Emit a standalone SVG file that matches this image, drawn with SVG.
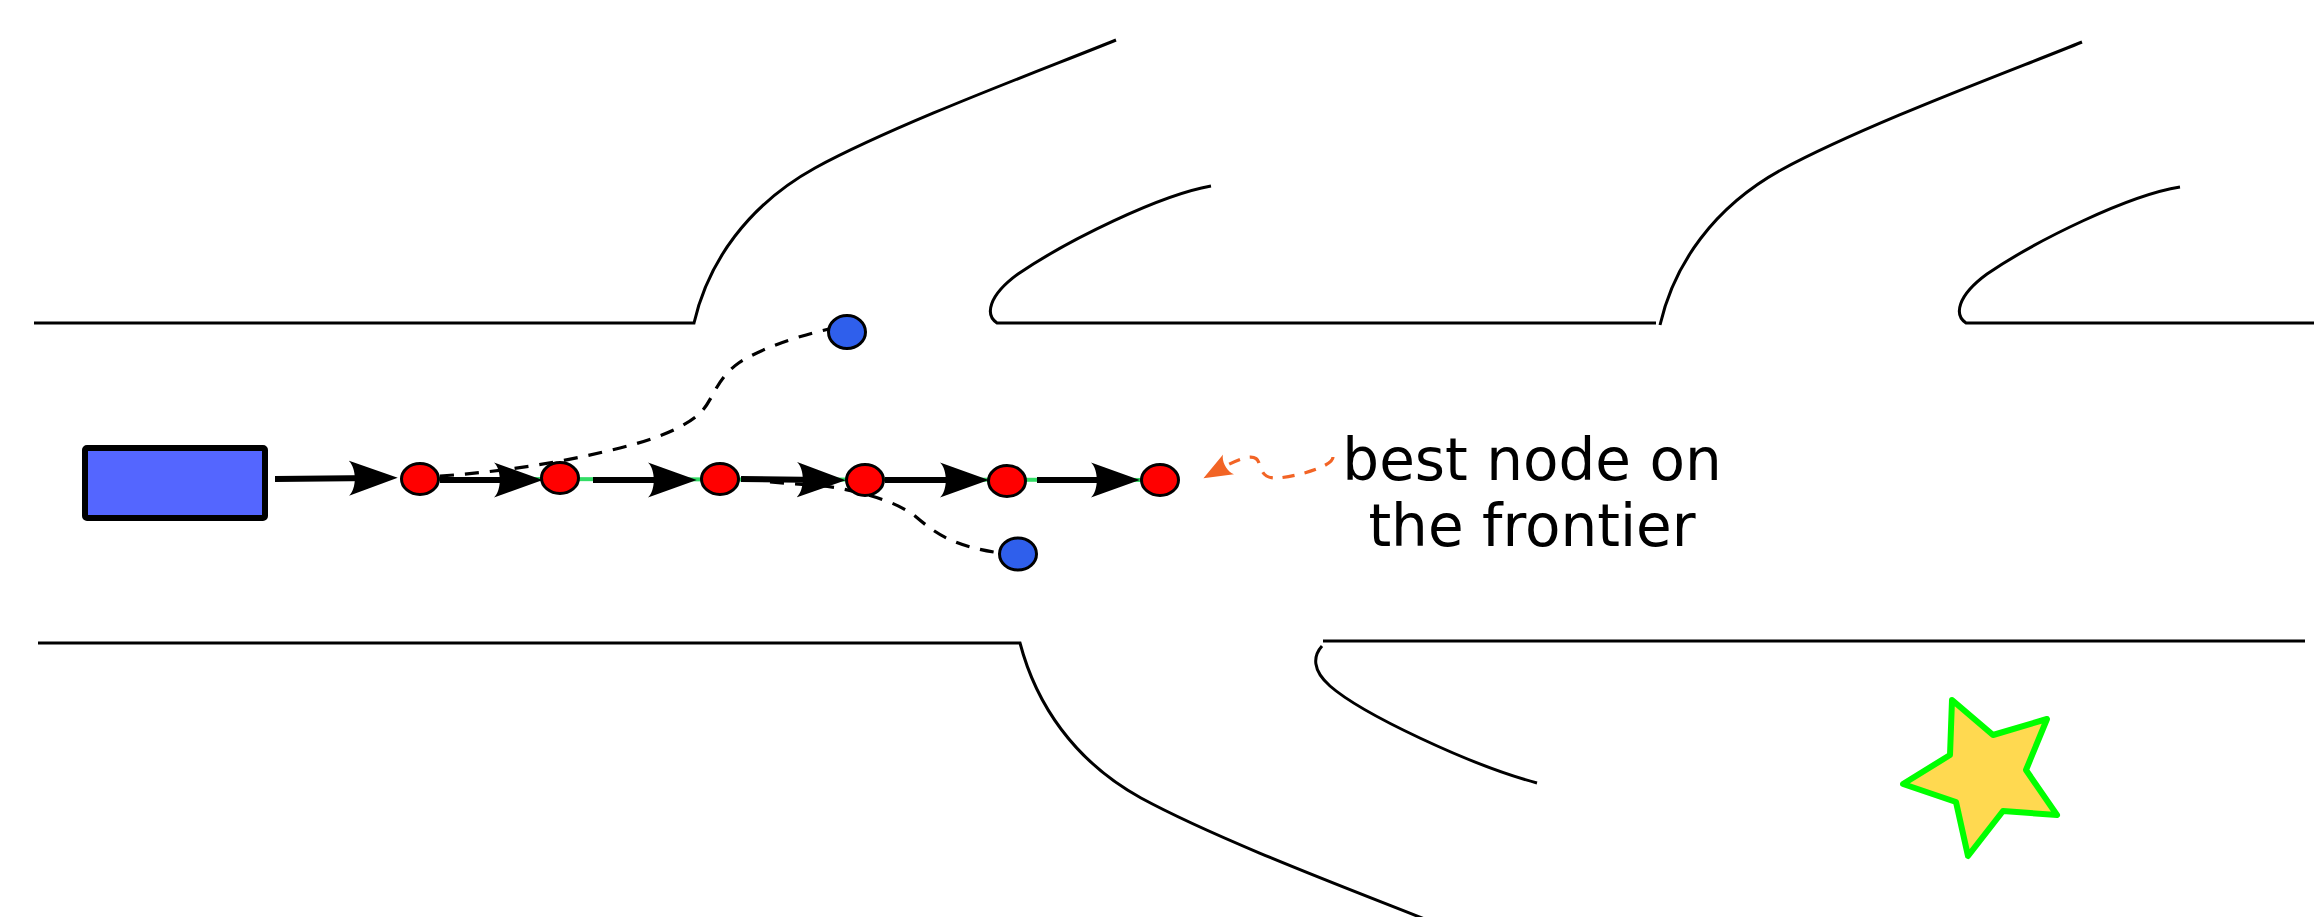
<svg xmlns="http://www.w3.org/2000/svg" width="2314" height="917" viewBox="0 0 2314 917">
<style>
.wall{fill:none;stroke:#000;stroke-width:3}
.arr{fill:none;stroke:#000;stroke-width:6}
.green{fill:none;stroke:#33dd66;stroke-width:4}
.dash{fill:none;stroke:#000;stroke-width:3.2;stroke-dasharray:14 11}
.odash{fill:none;stroke:#f26425;stroke-width:3.2;stroke-dasharray:12 10}
.red{fill:#ff0000;stroke:#000;stroke-width:3}
.blue{fill:#2f5fec;stroke:#000;stroke-width:3}
.lbl{font-family:"DejaVu Sans",sans-serif;font-size:58px;fill:#000;text-anchor:middle}
</style>
<defs>
<marker id="ah" markerUnits="userSpaceOnUse" markerWidth="50" markerHeight="40" viewBox="0 0 44 32" refX="23" refY="16" orient="auto">
<path d="M43,16 L0,0.5 C7,7 7,25 0,31.5 Z" fill="#000"/>
</marker>
<marker id="oah" markerUnits="userSpaceOnUse" markerWidth="30" markerHeight="24" viewBox="0 0 24 18" refX="6" refY="9" orient="auto">
<path d="M23,9 L0,0 C4,4 4,14 0,18 Z" fill="#f26425"/>
</marker>
</defs>

<g id="walls">
<path class="wall" d="M34,323 L694,323 C708,262 748,205 815,168 C900,122 1050,67 1116,40"/>
<path class="wall" d="M1656,323 L997,323 C985,315 988,296 1018,274 C1068,240 1160,195 1211,186"/>
<path class="wall" d="M1660,325 C1674,264 1714,207 1781,170 C1866,124 2016,69 2082,42"/>
<path class="wall" d="M2314,323 L1966,323 C1954,315 1957,296 1987,274 C2037,240 2129,195 2180,187"/>
<path class="wall" d="M38,643 L1020,643 C1036,704 1074,761 1141,798 C1226,844 1376,899 1442,926"/>
<path class="wall" d="M2305,641 L1323,641"/>
<path class="wall" d="M1322,646 C1313,656 1312,670 1330,686 C1362,714 1470,765 1537,783"/>
</g>

<g id="connectors">
<path class="green" d="M420,479 L1160,480"/>
<path class="dash" d="M440,476 C500,472 560,463 620,448 C660,438 690,425 703,410 C715,395 717,378 740,362 C765,347 795,337 829,329"/>
<path class="dash" d="M770,482 C795,484 820,485 838,488 C870,494 898,503 915,516 C935,533 952,546 1000,553"/>
<path class="arr" marker-end="url(#ah)" d="M275,479 L375,478"/>
<path class="arr" marker-end="url(#ah)" d="M440,480 L520,480"/>
<path class="arr" marker-end="url(#ah)" d="M593,480 L674,480"/>
<path class="arr" marker-end="url(#ah)" d="M741,479 L823,480"/>
<path class="arr" marker-end="url(#ah)" d="M885,480 L966,480"/>
<path class="arr" marker-end="url(#ah)" d="M1037,480 L1117,480"/>
<path class="odash" marker-end="url(#oah)" d="M1333,457 C1333,466 1300,476 1278,478 C1262,479 1262,470 1259,463 C1256,452 1240,458 1222,468"/>
</g>

<g id="start"><rect x="85" y="448" width="180" height="70" rx="2" fill="#5466ff" stroke="#000" stroke-width="6"/></g>

<g id="n1"><ellipse class="red" cx="420" cy="479" rx="18.5" ry="15.5"/></g>
<g id="n2"><ellipse class="red" cx="560" cy="478" rx="18.5" ry="15.5"/></g>
<g id="n3"><ellipse class="red" cx="720" cy="479" rx="18.5" ry="15.5"/></g>
<g id="n4"><ellipse class="red" cx="865" cy="480" rx="18.5" ry="15.5"/></g>
<g id="n5"><ellipse class="red" cx="1007" cy="481" rx="18.5" ry="15.5"/></g>
<g id="n6"><ellipse class="red" cx="1160" cy="480" rx="18.5" ry="15.5"/></g>
<g id="b1"><ellipse class="blue" cx="847" cy="332" rx="18.5" ry="16.5"/></g>
<g id="b2"><ellipse class="blue" cx="1018" cy="554" rx="18.5" ry="16"/></g>

<g id="label">
<text class="lbl" x="1532" y="480">best node on</text>
<text class="lbl" x="1532" y="546">the frontier</text>
</g>

<g id="goal">
<path d="M1952,700 L1993,735 L2047,719 L2026,770 L2057,815 L2003,811 L1968,856 L1956,802 L1903,784 L1950,755 Z" fill="#ffd950" stroke="#00ff00" stroke-width="6" stroke-linejoin="round"/>
</g>
</svg>
